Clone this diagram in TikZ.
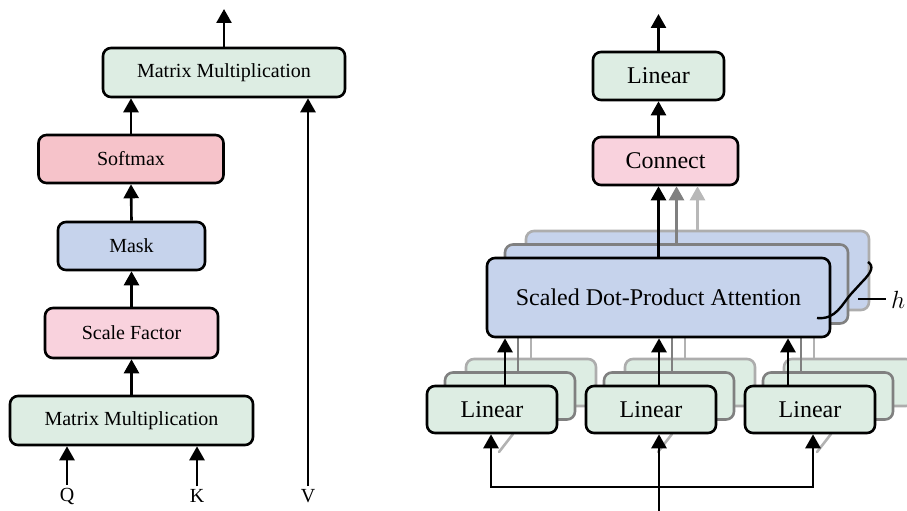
\documentclass[tikz,border=0pt]{standalone}
\usepackage{fontspec}
\setmainfont{Liberation Serif}
\usetikzlibrary{arrows.meta}

\definecolor{mmgreen}{HTML}{DDEDE3}
\definecolor{smpink}{HTML}{F6C3CA}
\definecolor{sfpink}{HTML}{F9D2DD}
\definecolor{mkblue}{HTML}{C6D3EC}

\tikzset{
  blk/.style={draw, line width=2.6pt, rounded corners=8pt, inner sep=0pt},
  lbox/.style={blk, font=\fontsize{20}{24}\selectfont},
  rbox/.style={blk, font=\fontsize{24}{28}\selectfont},
  backB/.style={draw=black!50},
  backC/.style={draw=black!32},
  arr/.style={line width=2.6pt, -{Triangle[length=14pt,width=15pt]}},
  lineB/.style={line width=2.6pt, black!50},
  lineC/.style={line width=2.6pt, black!30},
  ghost/.style={line width=2.6pt, black!30, line cap=round}
}

\begin{document}
\begin{tikzpicture}[x=1pt, y=-1pt]
\useasboundingbox (0,0) rectangle (907,511);

% --- Left: scaled dot-product attention ---
\node[lbox, fill=mmgreen, minimum width=242pt, minimum height=49pt] (mmTop) at (224,72.5) {Matrix Multiplication};
\node[lbox, fill=smpink, minimum width=185pt, minimum height=48pt] (softmax) at (131,159) {Softmax};
\node[lbox, fill=mkblue, minimum width=147pt, minimum height=48pt] (mask) at (131.5,246) {Mask};
\node[lbox, fill=sfpink, minimum width=173pt, minimum height=50pt] (scale) at (131.5,333) {Scale Factor};
\node[lbox, fill=mmgreen, minimum width=243pt, minimum height=49pt] (mmBot) at (131.5,420.5) {Matrix Multiplication};

\node[font=\fontsize{20}{24}\selectfont, inner sep=0pt] (q) at (67,496) {Q};
\node[font=\fontsize{20}{24}\selectfont, inner sep=0pt] (k) at (197,496) {K};
\node[font=\fontsize{20}{24}\selectfont, inner sep=0pt] (v) at (308,496) {V};
\coordinate (outL) at (224,9);

\draw[arr] ([yshift=3pt]q.north) -- (q.north |- mmBot.south);
\draw[arr] ([yshift=3pt]k.north) -- (k.north |- mmBot.south);
\draw[arr] ([yshift=3pt]v.north) -- (v.north |- mmTop.south);
\draw[arr] (mmBot.north) -- (scale.south);
\draw[arr] (scale.north) -- (mask.south);
\draw[arr] (mask.north) -- (softmax.south);
\draw[arr] (softmax.north) -- (softmax.north |- mmTop.south);
\draw[arr] (mmTop.north) -- (outL);

% --- Right: multi-head attention ---
\node[rbox, fill=mmgreen, minimum width=131pt, minimum height=48pt] (linTop) at (658.5,76) {Linear};
\node[rbox, fill=sfpink, minimum width=145pt, minimum height=48pt] (connect) at (665.5,161) {Connect};
\coordinate (outR) at (658.5,14);

% back heads
\node[rbox, backC, fill=mkblue, minimum width=343pt, minimum height=79pt] (att3) at (697.5,270.5) {};
\draw[arr, black!28] (att3.north) -- (att3.north |- connect.south);
\foreach \n/\cx/\dx in {1/492/13, 2/651/8, 3/810/-22} {
  \node[rbox, backC, fill=mmgreen, minimum width=130pt, minimum height=47pt] (linC\n) at (\cx+39,382.5) {};
  \draw[lineC] ([xshift={(\dx-13)*1pt}]linC\n.north) -- ([xshift={(\dx-13)*1pt}]linC\n.north |- att3.south);
}
\node[rbox, backB, fill=mkblue, minimum width=343pt, minimum height=79pt] (att2) at (676.5,284) {};
\draw[arr, black!50] (att2.north) -- (att2.north |- connect.south);
\foreach \n/\cx/\dx in {1/492/13, 2/651/8, 3/810/-22} {
  \node[rbox, backB, fill=mmgreen, minimum width=130pt, minimum height=47pt] (linB\n) at (\cx+18,396) {};
  \draw[lineB] ([xshift={(\dx-5)*1pt}]linB\n.north) -- ([xshift={(\dx-5)*1pt}]linB\n.north |- att2.south);
}

% front head
\node[rbox, fill=mkblue, minimum width=343pt, minimum height=79pt] (att) at (658.5,297.5) {Scaled Dot-Product Attention};
\foreach \n/\cx/\dx in {1/492/13, 2/651/8, 3/810/-22} {
  \draw[ghost] (\cx+7,452) -- (\cx+21,434);
  \node[rbox, fill=mmgreen, minimum width=130pt, minimum height=47pt] (lin\n) at (\cx,409.5) {Linear};
  \draw[arr] ([xshift={\dx*1pt}]lin\n.north) -- ([xshift={\dx*1pt}]lin\n.north |- att.south);
}

\draw[arr] (att.north) -- (att.north |- connect.south);
\draw[arr] (connect.north -| linTop) -- (linTop.south);
\draw[arr] (linTop.north) -- (outR);

% inputs
\coordinate (src) at (659,511);
\coordinate (split) at (659,487);
\draw[arr] (src) -- (src |- lin2.south);
\draw[arr] (split) -| ([xshift=-1pt]lin1.south);
\draw[arr] (split) -| ([xshift=3pt]lin3.south);

% h brace
\draw[line width=2.4pt] (817,318) .. controls (836,320) and (842,304) .. (851,294)
  -- (862,282) .. controls (872,272) and (874,266) .. (868,262);
\node[font=\fontsize{24}{28}\selectfont, inner sep=0pt] (hlab) at (898,300) {$h$};
\coordinate (tick) at (858,299);
\draw[line width=2.4pt] (tick) -- ([xshift=-5pt]hlab.west |- tick);
\end{tikzpicture}
\end{document}
